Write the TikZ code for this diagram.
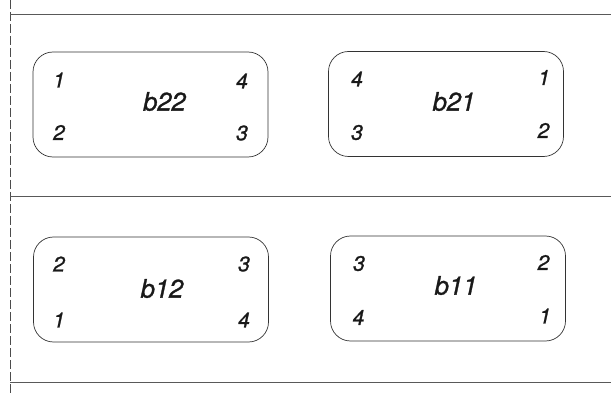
\documentclass[tikz,border=0pt]{standalone}
\usepackage{fontspec}
\setmainfont{TeX Gyre Heros}
\newfontfamily\labfont{texgyreheros-italic.otf}[FakeBold=1.2]
\begin{document}
\begin{tikzpicture}[x=1pt,y=-1pt,
  rule/.style={draw=black!65,line width=0.7pt},
  dashrule/.style={draw=black!70,line width=0.7pt,dash pattern=on 9pt off 3pt},
  boxcell/.style={draw=black!80,line width=0.7pt,rounded corners=20pt,minimum width=235pt,minimum height=105pt,inner sep=0pt},
  pin/.style={font=\labfont\fontsize{21}{21}\selectfont,text=black!90,inner sep=0pt},
  lbl/.style={font=\labfont\fontsize{25.5}{25.5}\selectfont,text=black!90,inner sep=0pt}]
\useasboundingbox (0,0) rectangle (611,393);
% frame lines
\coordinate (vt) at (10,0);
\coordinate (vb) at (10,393);
\coordinate (h1l) at (10,14);  \coordinate (h1r) at (611,14);
\coordinate (h2l) at (10,196); \coordinate (h2r) at (611,196);
\coordinate (h3l) at (10,382); \coordinate (h3r) at (611,382);
\draw[dashrule] (vt) -- (vb);
\draw[rule] (h1l) -- (h1r);
\draw[rule] (h2l) -- (h2r);
\draw[rule] (h3l) -- (h3r);
% boxes
\node[boxcell] (B22) at (150.5,104.5) {};
\node[boxcell] (B21) at (446,104) {};
\node[boxcell] (B12) at (151,289.5) {};
\node[boxcell] (B11) at (448,288.5) {};
% labels
\node[lbl] (L22) at (164.5,101.5) {b22};
\node[lbl] (L21) at (454,101.5) {b21};
\node[lbl] (L12) at (162,288.5) {b12};
\node[lbl] (L11) at (456,285.5) {b11};
% b22 pins
\node[pin] (p22a) at (59,80) {1};
\node[pin] (p22b) at (59,132.5) {2};
\node[pin] (p22c) at (242,133) {3};
\node[pin] (p22d) at (242,81) {4};
% b21 pins
\node[pin] (p21a) at (544,77.5) {1};
\node[pin] (p21b) at (543.5,130.5) {2};
\node[pin] (p21c) at (357,132.5) {3};
\node[pin] (p21d) at (357,79) {4};
% b12 pins
\node[pin] (p12a) at (59,320) {1};
\node[pin] (p12b) at (59,264) {2};
\node[pin] (p12c) at (244,264) {3};
\node[pin] (p12d) at (244,320) {4};
% b11 pins
\node[pin] (p11a) at (545,316) {1};
\node[pin] (p11b) at (543.5,262.5) {2};
\node[pin] (p11c) at (359,263.5) {3};
\node[pin] (p11d) at (358.5,317.5) {4};
\end{tikzpicture}
\end{document}
